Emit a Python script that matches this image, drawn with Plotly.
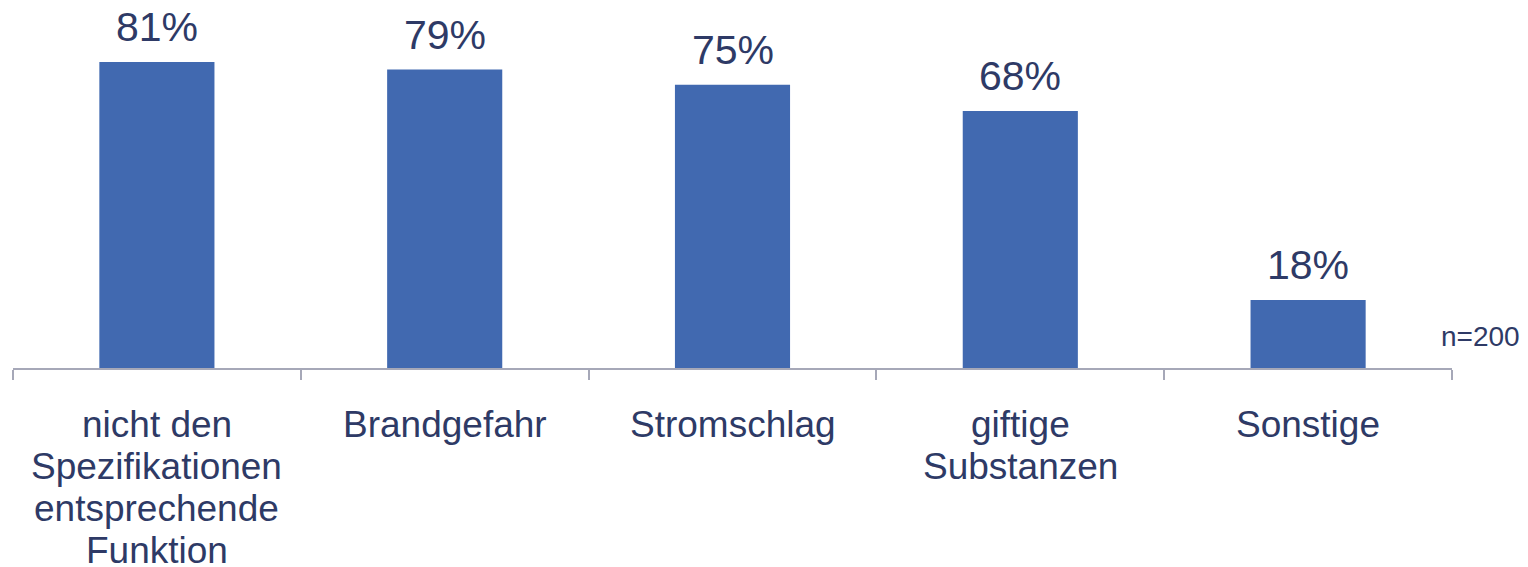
import plotly.graph_objects as go

# Survey result: perceived risks of products, share of respondents
categories = ["nicht den Spezifikationen entsprechende Funktion", "Brandgefahr",
              "Stromschlag", "giftige Substanzen", "Sonstige"]
label_lines = [["nicht den", "Spezifikationen", "entsprechende", "Funktion"],
               ["Brandgefahr"], ["Stromschlag"], ["giftige", "Substanzen"], ["Sonstige"]]
values = [81, 79, 75, 68, 18]
sample_note = "n=200"

BAR_COLOR = "#4169B0"
TEXT_COLOR = "#2E3A66"
FONT = "Liberation Sans, Arial, sans-serif"

fig = go.Figure(go.Bar(
    x=categories, y=values,
    marker=dict(color=BAR_COLOR, line=dict(width=0)),
    hoverinfo="skip",
))

annotations = []
# value labels above each bar
for cat, v in zip(categories, values):
    annotations.append(dict(
        x=cat, y=v, xref="x", yref="y", text=f"{v}%", showarrow=False,
        yanchor="middle", yshift=35,
        font=dict(family=FONT, size=41, color=TEXT_COLOR),
    ))
# multi-line category labels below the axis with tight line spacing
for cat, lines in zip(categories, label_lines):
    for i, line in enumerate(lines):
        annotations.append(dict(
            x=cat, y=0, xref="x", yref="paper", text=line, showarrow=False,
            yanchor="middle", yshift=-(56 + 42 * i),
            font=dict(family=FONT, size=37, color=TEXT_COLOR),
        ))
# sample size note
annotations.append(dict(
    x=1, y=0, xref="paper", yref="paper", text=sample_note, showarrow=False,
    xanchor="right", yanchor="middle", xshift=70, yshift=32,
    font=dict(family=FONT, size=28, color=TEXT_COLOR),
))

fig.update_layout(
    width=1528, height=567,
    margin=dict(l=13, r=76, t=0, b=199),
    paper_bgcolor="white", plot_bgcolor="white",
    bargap=0.6,
    showlegend=False,
    annotations=annotations,
    xaxis=dict(
        showline=True, linecolor="#A6A8B8", linewidth=2,
        ticks="outside", tickson="boundaries", ticklen=10, tickwidth=2,
        tickcolor="#A6A8B8", showticklabels=False, showgrid=False,
        zeroline=False,
    ),
    yaxis=dict(
        range=[0, 97.4], visible=False, showgrid=False, zeroline=False,
    ),
)

fig.write_html("out.html")
